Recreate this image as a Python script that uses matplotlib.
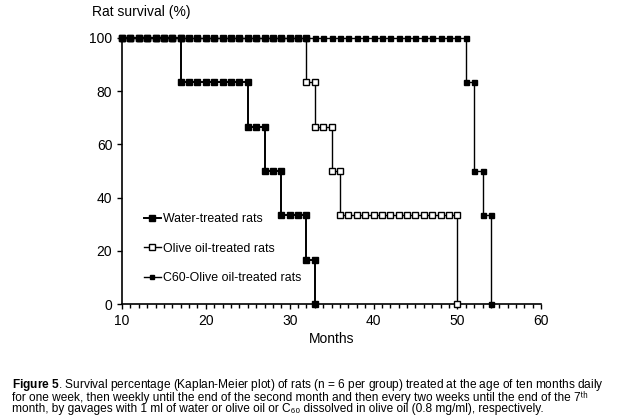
import matplotlib
matplotlib.use("Agg")
import matplotlib.pyplot as plt
from matplotlib.ticker import MultipleLocator

plt.rcParams['font.family'] = ['Liberation Sans', 'DejaVu Sans']
plt.rcParams['mathtext.fontset'] = 'custom'
plt.rcParams['mathtext.rm'] = 'Liberation Sans'
plt.rcParams['mathtext.it'] = 'Liberation Sans:italic'
plt.rcParams['mathtext.bf'] = 'Liberation Sans:bold'

# Water-treated rats (months, survival %)
water_months = [10, 11, 12, 13, 14, 15, 16, 17,
                17, 18, 19, 20, 21, 22, 23, 24, 25,
                25, 26, 27,
                27, 28, 29,
                29, 30, 31, 32,
                32, 33,
                33]
water_surv = [100] * 8 + [83.33] * 9 + [66.67] * 3 + [50] * 3 + [33.33] * 4 + [16.67] * 2 + [0]

# Olive oil-treated rats
olive_months = [10, 11, 12, 13, 14, 15, 16, 17, 18, 19, 20, 21, 22, 23, 24, 25,
                26, 27, 28, 29, 30, 31, 32,
                32, 33,
                33, 34, 35,
                35, 36,
                36, 37, 38, 39, 40, 41, 42, 43, 44, 45, 46, 47, 48, 49, 50,
                50]
olive_surv = [100] * 23 + [83.33] * 2 + [66.67] * 3 + [50] * 2 + [33.33] * 15 + [0]

# C60-Olive oil-treated rats
c60_months = [10, 11, 12, 13, 14, 15, 16, 17, 18, 19, 20, 21, 22, 23, 24, 25,
              26, 27, 28, 29, 30, 31, 32, 33, 34, 35, 36, 37, 38, 39, 40, 41,
              42, 43, 44, 45, 46, 47, 48, 49, 50, 51,
              51, 52,
              52, 53,
              53, 54,
              54]
c60_surv = [100] * 42 + [83.33] * 2 + [50] * 2 + [33.33] * 2 + [0]

series_labels = ['Water-treated rats', 'Olive oil-treated rats', 'C60-Olive oil-treated rats']
x_ticks = [10, 20, 30, 40, 50, 60]
y_ticks = [0, 20, 40, 60, 80, 100]

caption_lines = [
    r"$\mathbf{Figure\ 5}$. Survival percentage (Kaplan-Meier plot) of rats (n = 6 per group) treated at the age of ten months daily",
    "for one week, then weekly until the end of the second month and then every two weeks until the end of the 7\u1d57\u02b0",
    "month, by gavages with 1 ml of water or olive oil or C\u2086\u2080 dissolved in olive oil (0.8 mg/ml), respectively.",
]

fig = plt.figure(figsize=(6.44, 4.16), dpi=100)
ax = fig.add_axes([0.1894, 0.269, 0.651, 0.6397])

ax.plot(water_months, water_surv, color='black', lw=1.4, marker='s', ms=4.2,
        mfc='black', mec='black', label=series_labels[0], clip_on=False, zorder=3)
ax.plot(olive_months, olive_surv, color='black', lw=1.0, marker='s', ms=4.2,
        mfc='white', mec='black', mew=1.0, label=series_labels[1], clip_on=False, zorder=4)
ax.plot(c60_months, c60_surv, color='black', lw=1.0, marker='s', ms=3.6,
        mfc='black', mec='black', label=series_labels[2], clip_on=False, zorder=5)

ax.set_xlim(10, 60)
ax.set_ylim(0, 100)
ax.set_xticks(x_ticks)
ax.set_yticks(y_ticks)
ax.xaxis.set_minor_locator(MultipleLocator(1))
ax.tick_params(axis='both', which='major', labelsize=10, length=3.5, width=1, direction='out', color='black')
ax.tick_params(axis='x', which='minor', length=3, width=1, direction='out')
ax.spines['top'].set_visible(False)
ax.spines['right'].set_visible(False)
ax.spines['left'].set_linewidth(1.2)
ax.spines['bottom'].set_linewidth(1.2)

ax.set_xlabel('Months', fontsize=10, labelpad=3)
fig.text(0.143, 0.988, 'Rat survival (%)', fontsize=10, ha='left', va='top')

leg = ax.legend(loc='upper left', bbox_to_anchor=(0.04, 0.36), frameon=False,
                fontsize=8.9, handlelength=1.4, handletextpad=0.2, labelspacing=1.42,
                borderaxespad=0, markerscale=0.9)

fig.text(0.019, 0.093, "\n".join(caption_lines), fontsize=8.6, ha='left', va='top',
         linespacing=0.8)

fig.savefig('out.png', dpi=100)
